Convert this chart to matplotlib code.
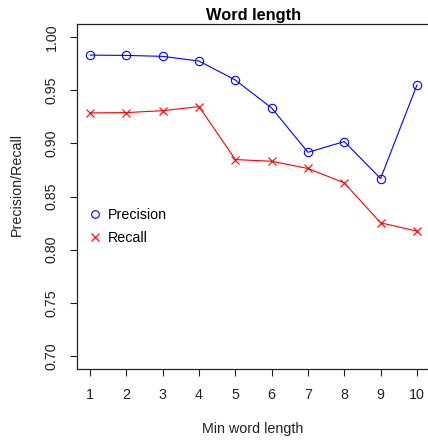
import matplotlib
matplotlib.use("Agg")
import matplotlib.pyplot as plt
from matplotlib.lines import Line2D

plt.rcParams['font.family'] = ['Liberation Sans', 'DejaVu Sans']

min_len = [1, 2, 3, 4, 5, 6, 7, 8, 9, 10]
precision = [0.9828, 0.9825, 0.9816, 0.9772, 0.9594, 0.9331, 0.8915, 0.9016, 0.8669, 0.9547]
recall = [0.9285, 0.9288, 0.9306, 0.9344, 0.8847, 0.8831, 0.8763, 0.8628, 0.8253, 0.8175]
yticks = [0.70, 0.75, 0.80, 0.85, 0.90, 0.95, 1.00]

W, H = 428, 440
FS = 10.3
fig = plt.figure(figsize=(W / 100, H / 100), dpi=100)
# plot region, right edge runs slightly past the canvas
ax = fig.add_axes([77 / W, 1 - 369 / H, (430 - 77) / W, (369 - 24) / H])

ax.plot(min_len, precision, color='blue', lw=0.8, marker='o', ms=6,
        mfc='none', mec='blue', mew=0.8)
ax.plot(min_len, recall, color='red', lw=0.8, marker='x', ms=6,
        mec='red', mew=0.8)

ax.set_xlim(0.64, 10.36)
ax.set_ylim(0.688, 1.012)
ax.set_xticks(min_len)
ax.set_yticks(yticks)
ax.set_yticklabels([f"{v:.2f}" for v in yticks])
ax.tick_params(direction='out', length=5, width=0.8, labelsize=FS, colors='#222222')
ax.tick_params(axis='x', pad=9)
ax.tick_params(axis='y', pad=8, labelrotation=90)
for lab in ax.get_yticklabels():
    lab.set_va('center')
for s in ax.spines.values():
    s.set_linewidth(0.9)
    s.set_color('#222222')
ax.spines['right'].set_visible(False)

ax.set_title("Word length", fontsize=11.8, fontweight='bold', pad=3)
fig.text(253 / W, 1 - 429 / H, "Min word length", ha='center', va='center', fontsize=FS, color='#222222')
fig.text(17 / W, 1 - 185 / H, "Precision/Recall", ha='center', va='center', rotation=90,
         fontsize=FS, color='#222222')

handles = [
    Line2D([], [], ls='none', marker='o', ms=5.5, mfc='none', mec='blue', mew=0.8),
    Line2D([], [], ls='none', marker='x', ms=5.5, mec='red', mew=0.8),
]
fig.legend(handles, ["Precision", "Recall"], loc='center left',
           bbox_to_anchor=(87.4 / W, 1 - 226.5 / H), frameon=False, fontsize=FS,
           borderpad=0, handlelength=1, handletextpad=0.4, labelspacing=0.62,
           borderaxespad=0)

fig.savefig("out.png", dpi=100)
